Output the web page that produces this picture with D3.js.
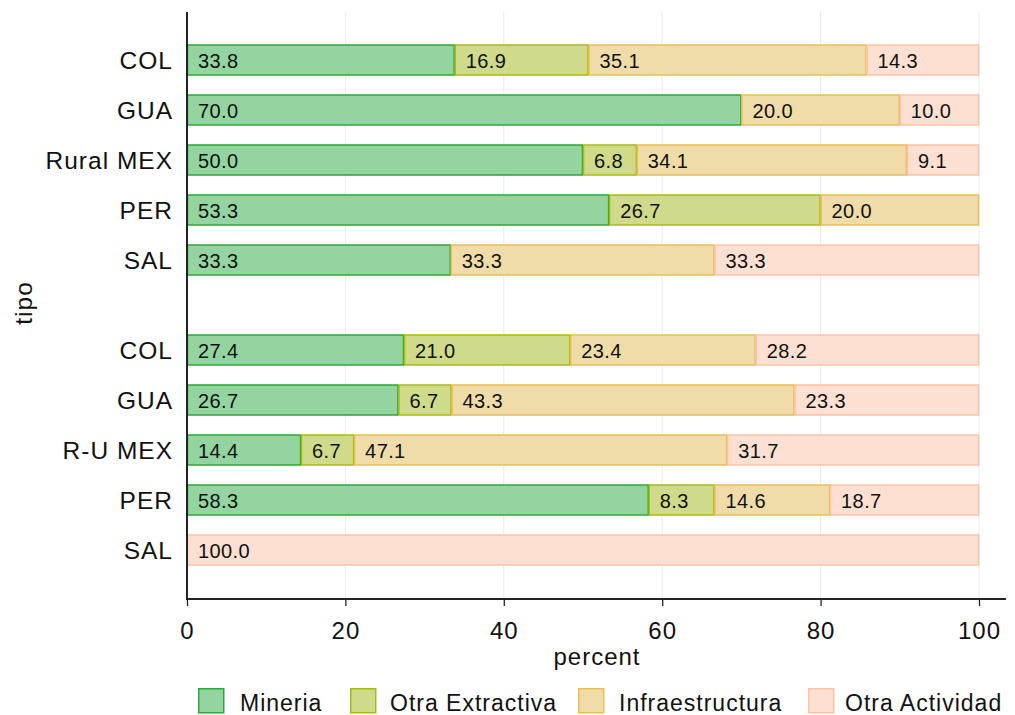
<!DOCTYPE html>
<html><head><meta charset="utf-8">
<script src="https://cdn.jsdelivr.net/npm/d3@7"></script>
<style>body{margin:0;background:#fff;font-family:"Liberation Sans",Arial,sans-serif;}</style>
</head><body><svg id="c" width="1015" height="715"></svg>
<script>
const categories = ["COL","GUA","Rural MEX","PER","SAL","COL","GUA","R-U MEX","PER","SAL"];
const groups = [0,0,0,0,0,1,1,1,1,1];
const seriesNames = ["Mineria","Otra Extractiva","Infraestructura","Otra Actividad"];
const mineria =        [33.8,70.0,50.0,53.3,33.3,27.4,26.7,14.4,58.3,0];
const otraExtractiva = [16.9,0,6.8,26.7,0,21.0,6.7,6.7,8.3,0];
const infraestructura =[35.1,20.0,34.1,20.0,33.3,23.4,43.3,47.1,14.6,0];
const otraActividad =  [14.3,10.0,9.1,0,33.3,28.2,23.3,31.7,18.7,100.0];
const xTicks = [0,20,40,60,80,100];

const fills = ["#93d4a0","#cfdb8a","#f0dca8","#fee0d2"];
const strokes = ["#2ea83a","#a8bb10","#e6bf58","#fcc3a3"];

const svg = d3.select("#c");
const x = d3.scaleLinear().domain([0,100]).range([187,979]);
const rowPos = (i) => i + groups[i]*0.8;
const y = d3.scaleLinear().domain([0,1]).range([60,110]);
const barH = 30;

svg.append("g").selectAll("line").data(xTicks.filter(d=>d>0)).join("line")
  .attr("x1",d=>x(d)).attr("x2",d=>x(d)).attr("y1",12).attr("y2",598)
  .attr("stroke","#ebebeb").attr("stroke-width",1);

const series = [mineria,otraExtractiva,infraestructura,otraActividad];
const rows = categories.map((c,i)=>{
  let acc=0; const segs=[];
  series.forEach((s,k)=>{ const v=s[i]; if(v>0){segs.push({k,v,x0:acc,x1:Math.min(100,acc+v)});} acc+=v;});
  return {c,i,segs};
});
rows.forEach(r=>{ if(r.segs.length) r.segs[r.segs.length-1].x1=100; });

const rg = svg.append("g").selectAll("g").data(rows).join("g");
rg.selectAll("rect").data(r=>r.segs.map(s=>({...s,i:r.i}))).join("rect")
  .attr("x",d=>x(d.x0)+0.5).attr("width",d=>x(d.x1)-x(d.x0)-1)
  .attr("y",d=>y(rowPos(d.i))-barH/2).attr("height",barH)
  .attr("fill",d=>fills[d.k]).attr("stroke",d=>strokes[d.k]).attr("stroke-width",1.5);
rg.selectAll("text").data(r=>r.segs.map(s=>({...s,i:r.i}))).join("text")
  .attr("x",d=>x(d.x0)+11).attr("y",d=>y(rowPos(d.i))+7.5)
  .attr("font-size",20).attr("letter-spacing",0.4).attr("fill","#111").text(d=>d.v.toFixed(1));

svg.append("line").attr("x1",187).attr("x2",187).attr("y1",12).attr("y2",599)
  .attr("stroke","#222").attr("stroke-width",2);
svg.append("g").selectAll("text").data(categories).join("text")
  .attr("x",173).attr("y",(d,i)=>y(rowPos(i))+9).attr("text-anchor","end")
  .attr("font-size",24.5).attr("letter-spacing",1).attr("fill","#111").text(d=>d);

const xa = svg.append("g").attr("transform","translate(0,599)")
  .call(d3.axisBottom(x).tickValues(xTicks).tickSize(7).tickPadding(6).tickFormat(d3.format("d")));
xa.select(".domain").remove();
xa.selectAll("line").attr("stroke","#222").attr("stroke-width",1.3);
xa.selectAll("text").attr("font-size",24).attr("letter-spacing",1).attr("dy",null).attr("y",40)
  .attr("fill","#111").attr("font-family","Liberation Sans, Arial, sans-serif");
svg.append("line").attr("x1",186).attr("x2",1006).attr("y1",599).attr("y2",599)
  .attr("stroke","#222").attr("stroke-width",2);

svg.append("text").attr("x",597).attr("y",665).attr("text-anchor","middle")
  .attr("font-size",24).attr("letter-spacing",1).attr("fill","#111").text("percent");
svg.append("text").attr("transform","translate(32,303) rotate(-90)").attr("text-anchor","middle")
  .attr("font-size",24.5).attr("letter-spacing",1).attr("fill","#111").text("tipo");

const legX = [198,350,578,808];
const lg = svg.append("g").selectAll("g").data(seriesNames).join("g")
  .attr("transform",(d,i)=>`translate(${legX[i]},688)`);
lg.append("rect").attr("x",0.75).attr("y",0.75).attr("width",25).attr("height",24)
  .attr("fill",(d,i)=>fills[i]).attr("stroke",(d,i)=>strokes[i]).attr("stroke-width",1.5);
lg.append("text").attr("x",(d,i)=>[42,40,41,37][i]).attr("y",23)
  .attr("font-size",23).attr("letter-spacing",1).attr("fill","#111").text(d=>d);
</script></body></html>
